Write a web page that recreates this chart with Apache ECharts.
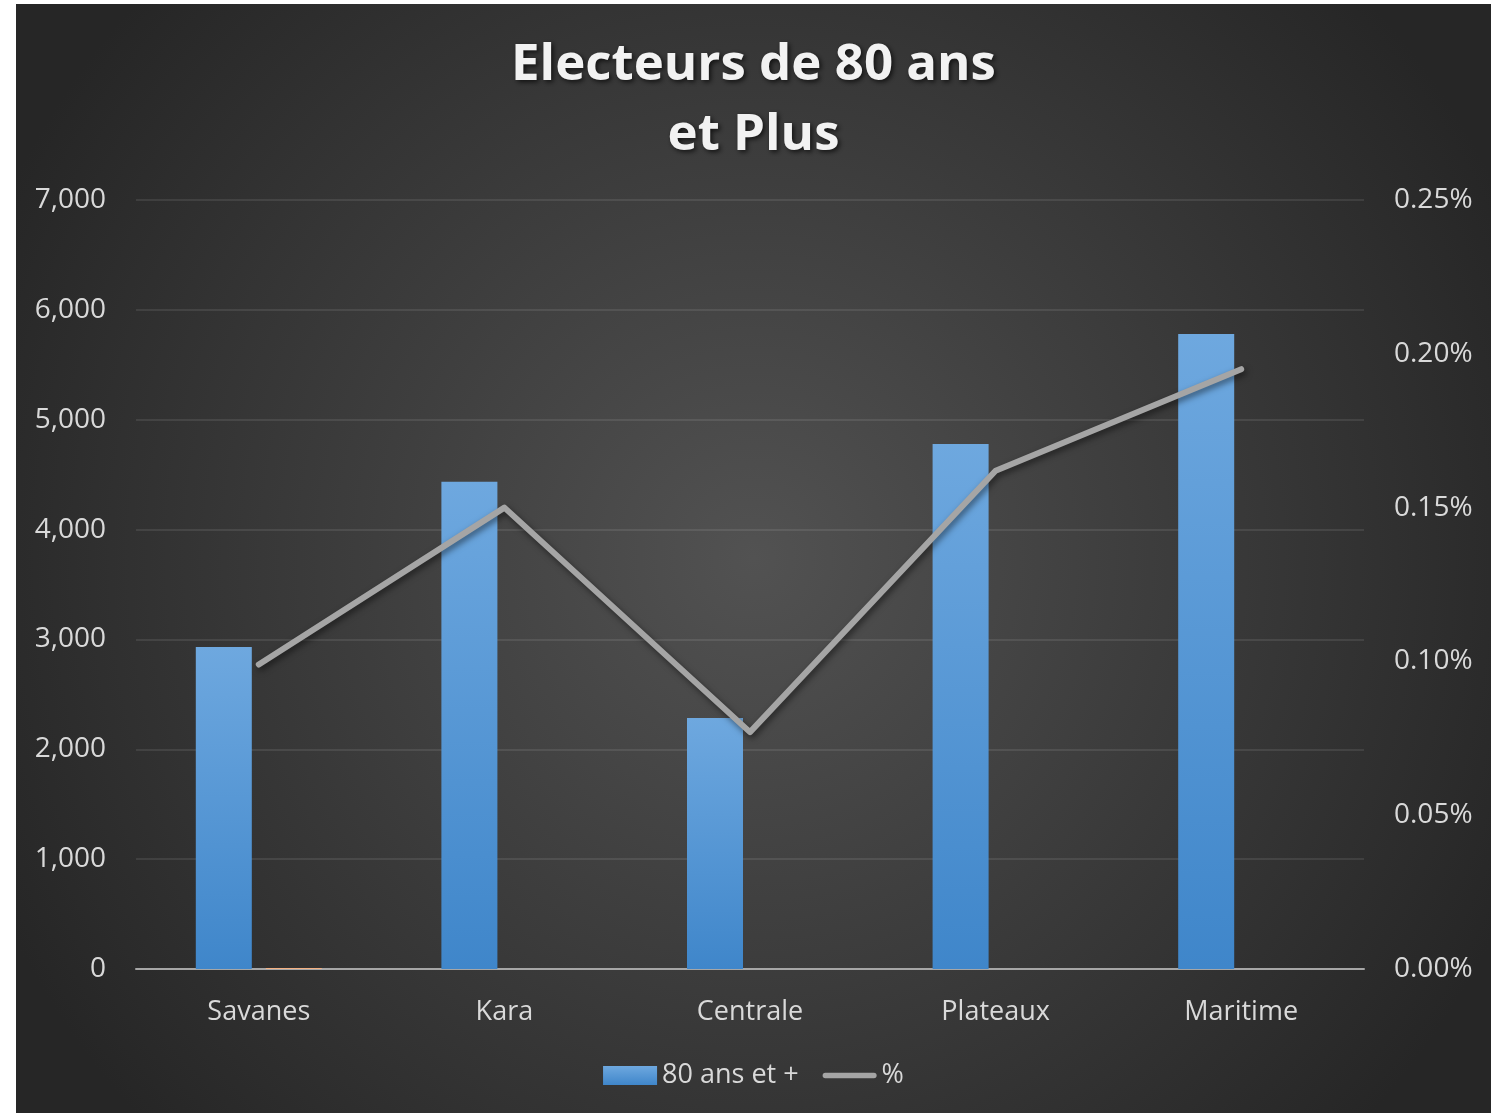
<!DOCTYPE html>
<html>
<head>
<meta charset="utf-8">
<script src="https://cdn.jsdelivr.net/npm/echarts@6/dist/echarts.min.js"></script>
<style>
  html, body { margin: 0; padding: 0; background: #ffffff; }
  #electeurs_chart { position: absolute; left: 16px; top: 4px; width: 1475px; height: 1109px; }
</style>
</head>
<body>
<div id="electeurs_chart"></div>
<script>
  var regions = ['Savanes', 'Kara', 'Centrale', 'Plateaux', 'Maritime'];
  var electeurs80 = [2930, 4435, 2285, 4780, 5780];
  // hidden series, only a sliver shows at the Savanes baseline
  var serie3 = [8, 0, 0, 0, 0];
  var pourcentage = [0.099, 0.150, 0.077, 0.162, 0.195];

  var chart = echarts.init(document.getElementById('electeurs_chart'));
  var textColor = '#d9d9d9';
  var font = 'Open Sans';

  var option = {
    backgroundColor: new echarts.graphic.RadialGradient(0.5, 0.5, 0.75, [
      {offset: 0, color: '#525252'},
      {offset: 1, color: '#262626'}
    ]),
    title: {
      text: 'Electeurs de 80 ans\net Plus',
      left: 'center',
      top: 21,
      textStyle: {
        color: '#f2f2f2',
        fontFamily: font,
        fontWeight: 'bold',
        fontSize: 51,
        lineHeight: 70,
        textShadowColor: 'rgba(0,0,0,0.7)',
        textShadowBlur: 5,
        textShadowOffsetX: 2,
        textShadowOffsetY: 2
      }
    },
    legend: {
      bottom: 19,
      left: 'center',
      itemWidth: 54,
      itemHeight: 19,
      itemGap: 24,
      textStyle: {color: textColor, fontFamily: font, fontSize: 27},
      data: [
        {name: '80 ans et +', icon: 'rect'},
        {name: '%', icon: 'path://M3,0 L57,0 A3,3 0 0 1 57,6 L3,6 A3,3 0 0 1 3,0 Z'}
      ]
    },
    grid: {
      left: 120,
      right: 127,
      top: 196,
      bottom: 144
    },
    xAxis: [{
      type: 'category',
      data: regions,
      axisTick: {show: false},
      axisLine: {lineStyle: {color: '#a6a6a6', width: 2}},
      axisLabel: {color: textColor, fontFamily: font, fontSize: 27, margin: 30}
    }],
    yAxis: [
      {
        type: 'value',
        min: 0,
        max: 7000,
        interval: 1000,
        axisLine: {show: false},
        axisTick: {show: false},
        splitLine: {lineStyle: {color: 'rgba(255,255,255,0.12)', width: 1.5}},
        axisLabel: {
          color: textColor, fontFamily: font, fontSize: 28, margin: 30,
          padding: [4, 0, 0, 0],
          formatter: function (v) { return v.toLocaleString('en-US'); }
        }
      },
      {
        type: 'value',
        min: 0,
        max: 0.25,
        interval: 0.05,
        position: 'right',
        axisLine: {show: false},
        axisTick: {show: false},
        splitLine: {show: false},
        axisLabel: {
          color: textColor, fontFamily: font, fontSize: 28, margin: 30,
          padding: [4, 0, 0, 0],
          formatter: function (v) { return v.toFixed(2) + '%'; }
        }
      }
    ],
    series: [
      {
        name: '80 ans et +',
        type: 'bar',
        data: electeurs80,
        barWidth: 56,
        barGap: '25%',
        itemStyle: {
          color: new echarts.graphic.LinearGradient(0, 0, 0, 1, [
            {offset: 0, color: '#6ea8df'},
            {offset: 1, color: '#3f86ca'}
          ]),
          shadowColor: 'rgba(0,0,0,0.45)',
          shadowBlur: 6,
          shadowOffsetX: 2,
          shadowOffsetY: 2
        }
      },
      {
        name: 'Série 3',
        type: 'bar',
        data: serie3,
        barWidth: 56,
        barGap: '25%',
        itemStyle: {color: '#f4b183'}
      },
      {
        name: '%',
        type: 'line',
        yAxisIndex: 1,
        data: pourcentage,
        symbol: 'none',
        lineStyle: {
          color: '#a5a5a5',
          width: 6,
          cap: 'round',
          join: 'round',
          shadowColor: 'rgba(0,0,0,0.5)',
          shadowBlur: 6,
          shadowOffsetX: 2,
          shadowOffsetY: 3
        },
        itemStyle: {color: '#a5a5a5'}
      }
    ]
  };
  chart.setOption(option);
</script>
</body>
</html>
